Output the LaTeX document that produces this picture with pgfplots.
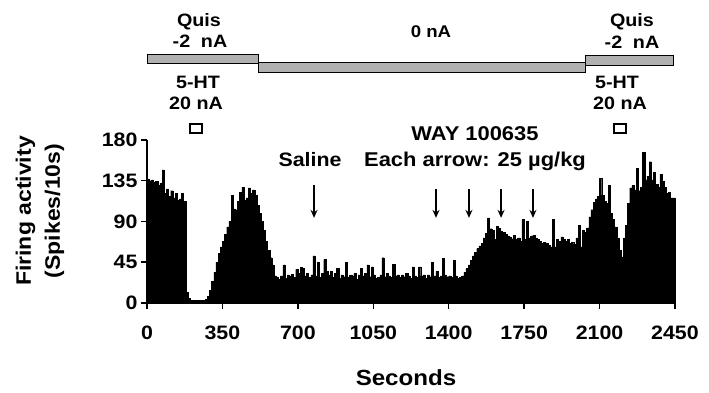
\documentclass[border=0pt]{standalone}
\usepackage{pgfplots}
\pgfplotsset{compat=1.18}
\usepackage{fontspec}
\setmainfont{Liberation Sans}[FakeStretch=1.1]
\usetikzlibrary{arrows.meta}
\newcommand\tfont{\fontsize{19.5}{21}\selectfont\bfseries}
\newcommand\afont{\fontsize{18}{20}\selectfont\bfseries}
\newcommand\wfont{\fontsize{20}{22}\selectfont\bfseries}
\newcommand\lfont{\fontsize{21}{29}\selectfont\bfseries}
\begin{document}
\begin{tikzpicture}
\useasboundingbox (0bp,0bp) rectangle (709bp,393bp);
\begin{axis}[
  at={(147bp,90bp)}, anchor=south west,
  width=528bp, height=163bp, scale only axis,
  xmin=0, xmax=2450, ymin=0, ymax=180,
  axis x line*=bottom, axis y line*=left,
  axis line style={-, line width=1.6bp},
  xtick={0,350,700,1050,1400,1750,2100,2450},
  ytick={0,45,90,135,180},
  tick align=outside, major tick length=6bp,
  tick style={line width=1.5bp, black},
  /pgf/number format/assume math mode=true,
  /pgf/number format/set thousands separator={},
  scaled ticks=false,
  x tick label style={font=\tfont, yshift=-13bp},
  y tick label style={font=\tfont},
  clip=false,
]
\addplot[const plot mark left, fill=black, draw=black, line width=0.4bp] table {
x y
0 137
10 135
20 136
30 133
40 134
50 130
60 132
70 147
80 121
90 126
100 118
110 124
120 116
130 121
140 113
150 115
160 121
170 112
180 12
190 5
200 3
210 3
220 3
230 3
240 3
250 3
260 3
270 4
280 7
290 14
300 24
310 34
320 45
330 55
340 62
350 68
360 76
370 84
380 90
390 119
400 104
410 103
420 112
430 122
440 128
450 114
460 116
470 127
480 121
490 125
500 119
510 108
520 99
530 90
540 80
550 68
560 58
570 50
580 42
590 30
600 28
610 26
620 30
630 42
640 27
650 31
660 30
670 32
680 28
690 37
700 33
710 39
720 38
730 30
740 33
750 28
760 31
770 52
780 30
790 45
800 28
810 33
820 48
830 35
840 31
850 35
860 28
870 33
880 38
890 27
900 31
910 29
920 45
930 28
940 31
950 30
960 33
970 26
980 31
990 38
1000 30
1010 33
1020 42
1030 29
1040 40
1050 31
1060 27
1070 28
1080 31
1090 50
1100 29
1110 33
1120 30
1130 28
1140 43
1150 30
1160 31
1170 28
1180 31
1190 29
1200 33
1210 30
1220 27
1230 40
1240 30
1250 28
1260 40
1270 30
1280 31
1290 27
1300 31
1310 29
1320 45
1330 30
1340 35
1350 28
1360 30
1370 49
1380 31
1390 29
1400 30
1410 28
1420 47
1430 30
1440 27
1450 28
1460 30
1470 34
1480 38
1490 42
1500 47
1510 52
1520 56
1530 60
1540 63
1550 66
1560 72
1570 77
1580 94
1590 82
1600 80
1610 70
1620 85
1630 83
1640 79
1650 78
1660 76
1670 74
1680 73
1690 71
1700 75
1710 70
1720 72
1730 68
1740 92
1750 70
1760 90
1770 72
1780 74
1790 75
1800 72
1810 70
1820 68
1830 66
1840 67
1850 66
1860 64
1870 62
1880 92
1890 62
1900 70
1910 68
1920 73
1930 70
1940 68
1950 70
1960 66
1970 67
1980 65
1990 72
2000 86
2010 62
2020 80
2030 78
2040 83
2050 95
2060 103
2070 111
2080 115
2090 118
2100 138
2110 119
2120 112
2130 110
2140 130
2150 99
2160 92
2170 84
2180 72
2190 58
2200 51
2210 72
2220 86
2230 110
2240 127
2250 130
2260 125
2270 149
2280 124
2290 128
2300 166
2310 136
2320 140
2330 156
2340 136
2350 144
2360 131
2370 128
2380 142
2390 134
2400 128
2410 121
2420 122
2430 116
2440 116
2450 116
} \closedcycle;
% arrows
\draw[-{Stealth[length=8bp,width=7bp]}, line width=1.4bp] (axis cs:775,130) -- (axis cs:775,94);
\draw[-{Stealth[length=8bp,width=7bp]}, line width=1.4bp] (axis cs:1341,126) -- (axis cs:1341,94);
\draw[-{Stealth[length=8bp,width=7bp]}, line width=1.4bp] (axis cs:1494,126) -- (axis cs:1494,94);
\draw[-{Stealth[length=8bp,width=7bp]}, line width=1.4bp] (axis cs:1643,126) -- (axis cs:1643,94);
\draw[-{Stealth[length=8bp,width=7bp]}, line width=1.4bp] (axis cs:1791,126) -- (axis cs:1791,94);
\end{axis}
% current bars
\draw[line width=1bp, fill=gray!62] (147bp,329bp) rectangle (258bp,338bp);
\draw[line width=1bp, fill=gray!62] (258bp,320bp) rectangle (585bp,330bp);
\draw[line width=1bp, fill=gray!62] (585bp,327bp) rectangle (673bp,337bp);
% top texts
\node[font=\afont] at (199bp,371bp) {Quis};
\node[font=\afont] at (200bp,352bp) {-2\hspace{0.6em}nA};
\node[font=\afont] at (632bp,371bp) {Quis};
\node[font=\afont] at (632bp,351bp) {-2\hspace{0.6em}nA};
\node[font=\fontsize{17}{19}\selectfont\bfseries] at (431bp,361bp) {0 nA};
\node[font=\afont] at (198bp,311bp) {5-HT};
\node[font=\afont] at (196bp,290bp) {20 nA};
\node[font=\afont] at (617bp,311bp) {5-HT};
\node[font=\afont] at (620bp,290bp) {20 nA};
\draw[line width=1.5bp] (190bp,260bp) rectangle (202bp,269bp);
\draw[line width=1.5bp] (614bp,260bp) rectangle (626bp,269bp);
% annotations
\node[font=\tfont] at (310bp,233bp) {Saline};
\node[font=\wfont] at (475bp,259bp) {WAY 100635};
\node[font=\wfont] at (475bp,232bp) {Each arrow: 25 µg/kg};
% axis labels
\node[font=\lfont, rotate=90, align=center] at (40bp,182bp) {Firing activity\\(Spikes/10s)};
\node[font=\fontsize{22}{24}\selectfont\bfseries] at (406bp,15bp) {Seconds};
\end{tikzpicture}
\end{document}
